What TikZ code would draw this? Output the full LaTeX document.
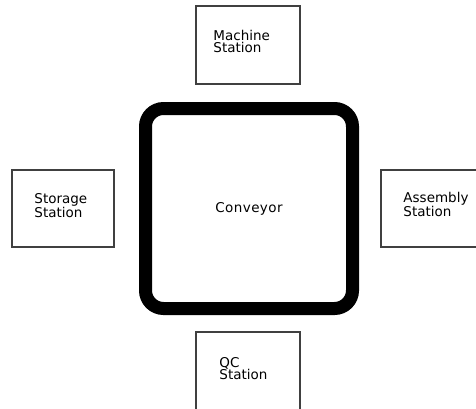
\documentclass[tikz,border=0pt]{standalone}
\usepackage{fontspec}
\newfontfamily\stfamily{DejaVu Sans}
\newcommand{\stfont}{\stfamily\fontsize{13.5}{12}\selectfont}
\begin{document}
\begin{tikzpicture}[x=1pt,y=-1pt,
  station/.style={draw=black!75, line width=1.5pt, minimum width=104pt,
    minimum height=78pt},
  stlabel/.style={anchor=west, inner sep=0pt, align=left, font=\stfont},
  conveyorbox/.style={draw=black, line width=13pt, rounded corners=18pt,
    minimum width=207pt, minimum height=200pt,
    font=\stfont\addfontfeatures{LetterSpace=3}}]
\useasboundingbox (0,0) rectangle (476,408);
\node[conveyorbox] (conv) at (249,208.5) {Conveyor};
\node[station] (machine) at (248,45) {};
\node[station, minimum width=102pt, minimum height=77pt] (storage) at (63,208.5) {};
\node[station, minimum height=77pt] (assembly) at (433,208.5) {};
\node[station] (qc) at (248,371) {};
\node[stlabel] (machinetext) at ([shift={(18,-4)}]machine.west) {Machine\\Station};
\node[stlabel] (storagetext) at ([shift={(23,-3)}]storage.west) {Storage\\Station};
\node[stlabel] (assemblytext) at ([shift={(23,-4)}]assembly.west) {Assembly\\Station};
\node[stlabel] (qctext) at ([shift={(24,-2)}]qc.west) {QC\\Station};
\end{tikzpicture}
\end{document}
